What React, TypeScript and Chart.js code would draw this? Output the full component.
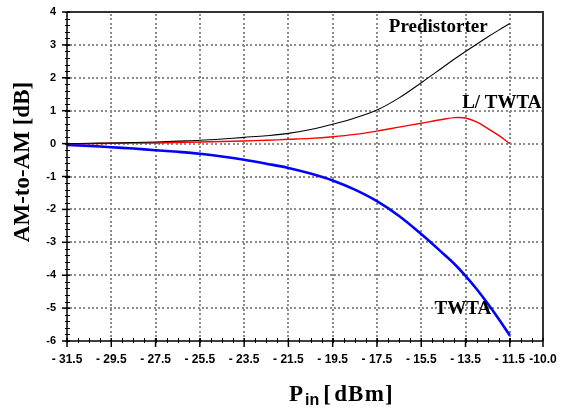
import React, { useEffect, useRef } from 'react';
import { Chart, registerables } from 'chart.js';

Chart.register(...registerables);

// Input power (dBm)
const pinValues = [
  -31.5, -30.5, -29.5, -28.5, -27.5, -26.5, -25.5, -24.5, -23.5, -22.5, -21.5,
  -20.5, -19.5, -18.5, -17.5, -16.5, -15.5, -14.5, -14, -13.5, -13, -12.5, -12, -11.5,
];
// AM-to-AM (dB)
const twtaValues = [
  -0.04, -0.07, -0.11, -0.15, -0.2, -0.25, -0.31, -0.39, -0.49, -0.61, -0.74,
  -0.91, -1.12, -1.4, -1.75, -2.2, -2.75, -3.35, -3.66, -4.02, -4.42, -4.86, -5.33, -5.83,
];
const predistorterValues = [
  0.0, 0.01, 0.02, 0.035, 0.05, 0.075, 0.1, 0.14, 0.19, 0.24, 0.31,
  0.43, 0.59, 0.78, 1.02, 1.39, 1.85, 2.33, 2.57, 2.8, 3.02, 3.24, 3.45, 3.65,
];
const linearizedValues = [
  0.0, 0.0, 0.01, 0.015, 0.02, 0.035, 0.05, 0.065, 0.08, 0.1, 0.13,
  0.16, 0.21, 0.28, 0.38, 0.5, 0.62, 0.74, 0.79, 0.78, 0.66, 0.46, 0.25, 0.0,
];

const xTickValues = [-31.5, -29.5, -27.5, -25.5, -23.5, -21.5, -19.5, -17.5, -15.5, -13.5, -11.5, -10.0];
const yTickValues = [-6, -5, -4, -3, -2, -1, 0, 1, 2, 3, 4];

const curveLabels = ['Predistorter', 'L/ TWTA', 'TWTA'];
const curveLabelX = [-14.73, -11.86, -13.62];
const curveLabelY = [3.53, 1.23, -5.02];

const SERIF = "'Liberation Serif', 'Times New Roman', serif";
const SANS = "'Liberation Sans', Arial, sans-serif";

const fmtX = (v: number) => {
  if (v === -10) return '-10.0';
  return '- ' + Math.abs(v).toFixed(1);
};

const drawGrid = (chart: any) => {
  const { ctx, chartArea } = chart;
  if (!chartArea) return;
  const { left, right, top, bottom } = chartArea;
  const xs = chart.scales.x;
  const ys = chart.scales.y;
  ctx.save();
  ctx.fillStyle = '#8c8c8c';
  const step = 4.4;
  xTickValues.forEach((v) => {
    const px = xs.getPixelForValue(v);
    if (px <= left + 1 || px >= right - 1) return;
    for (let y = top + 2; y < bottom - 1; y += step) {
      ctx.fillRect(Math.round(px) - 1, Math.round(y), 2, 2);
    }
  });
  yTickValues.forEach((v) => {
    const py = ys.getPixelForValue(v);
    if (py <= top + 1 || py >= bottom - 1) return;
    for (let x = left + 3; x < right - 1; x += step) {
      ctx.fillRect(Math.round(x), Math.round(py) - 1, 2, 2);
    }
  });
  ctx.restore();
};

const decorPlugin = {
  id: 'decor',
  beforeDraw(chart: any) {
    drawGrid(chart);
  },
  afterDatasetsDraw(chart: any) {
    const { ctx, chartArea } = chart;
    const { left, right, top, bottom } = chartArea;
    const xs = chart.scales.x;
    const ys = chart.scales.y;
    ctx.save();
    ctx.setLineDash([]);
    // top & right frame
    ctx.strokeStyle = '#333333';
    ctx.lineWidth = 2;
    ctx.beginPath();
    ctx.moveTo(left, top);
    ctx.lineTo(right, top);
    ctx.lineTo(right, bottom);
    ctx.stroke();
    // axes
    ctx.strokeStyle = '#000000';
    ctx.lineWidth = 1.5;
    ctx.beginPath();
    ctx.moveTo(left, top);
    ctx.lineTo(left, bottom);
    ctx.lineTo(right, bottom);
    ctx.stroke();
    // minor ticks
    ctx.lineWidth = 1;
    for (let v = -31.5; v <= -10.0001; v += 0.5) {
      const px = Math.round(xs.getPixelForValue(v)) + 0.5;
      ctx.beginPath();
      ctx.moveTo(px, bottom - 3);
      ctx.lineTo(px, bottom + 2);
      ctx.stroke();
    }
    for (let i = 0; i <= 50; i++) {
      const v = -6 + i * 0.2;
      const py = Math.round(ys.getPixelForValue(v)) + 0.5;
      ctx.beginPath();
      ctx.moveTo(left - 2, py);
      ctx.lineTo(left + 3, py);
      ctx.stroke();
    }
    // major ticks
    ctx.lineWidth = 1.5;
    xTickValues.forEach((v) => {
      const px = xs.getPixelForValue(v);
      ctx.beginPath();
      ctx.moveTo(px, bottom - 3);
      ctx.lineTo(px, bottom + 6);
      ctx.stroke();
    });
    yTickValues.forEach((v) => {
      const py = ys.getPixelForValue(v);
      ctx.beginPath();
      ctx.moveTo(left - 5, py);
      ctx.lineTo(left + 3, py);
      ctx.stroke();
    });
    // curve labels
    ctx.fillStyle = '#000';
    ctx.font = `bold 19px ${SERIF}`;
    ctx.textAlign = 'center';
    ctx.textBaseline = 'middle';
    curveLabels.forEach((t, i) => {
      ctx.fillText(t, xs.getPixelForValue(curveLabelX[i]), ys.getPixelForValue(curveLabelY[i]));
    });
    // y title
    ctx.save();
    ctx.translate(left - 44, top + 150);
    ctx.rotate(-Math.PI / 2);
    ctx.font = `bold 23px ${SERIF}`;
    ctx.textAlign = 'center';
    ctx.textBaseline = 'middle';
    ctx.fillText('AM-to-AM [dB]', 0, 0);
    ctx.restore();
    // x title: P_in [dBm]
    ctx.textAlign = 'left';
    ctx.textBaseline = 'alphabetic';
    try { (ctx as any).letterSpacing = '2px'; } catch (e) {}
    let x0 = left + 222;
    const base = bottom + 60;
    ctx.font = `bold 23px ${SERIF}`;
    ctx.fillText('P', x0, base);
    x0 += ctx.measureText('P').width;
    ctx.font = `bold 16px ${SANS}`;
    try { (ctx as any).letterSpacing = '0px'; } catch (e) {}
    ctx.fillText('in', x0, base + 4);
    x0 += ctx.measureText('in').width + 4;
    ctx.font = `bold 23px ${SERIF}`;
    try { (ctx as any).letterSpacing = '1.2px'; } catch (e) {}
    ctx.fillText('[', x0, base);
    x0 += ctx.measureText('[').width + 2;
    ctx.fillText('dBm]', x0, base);
    try { (ctx as any).letterSpacing = '0px'; } catch (e) {}
    ctx.restore();
  },
};

export default function App() {
  const ref = useRef<HTMLCanvasElement | null>(null);
  useEffect(() => {
    if (!ref.current) return;
    const chart = new Chart(ref.current, {
      type: 'line',
      data: {
        datasets: [
          {
            label: 'Predistorter',
            data: pinValues.map((x, i) => ({ x, y: predistorterValues[i] })),
            borderColor: '#000000',
            borderWidth: 1.1,
            pointRadius: 0,
            tension: 0.35,
          },
          {
            label: 'L/ TWTA',
            data: pinValues.map((x, i) => ({ x, y: linearizedValues[i] })),
            borderColor: '#ff0000',
            borderWidth: 1.4,
            pointRadius: 0,
            tension: 0.35,
          },
          {
            label: 'TWTA',
            data: pinValues.map((x, i) => ({ x, y: twtaValues[i] })),
            borderColor: '#0000ff',
            borderWidth: 2.6,
            pointRadius: 0,
            tension: 0.35,
          },
        ],
      },
      options: {
        responsive: false,
        animation: false,
        layout: { padding: { left: 0, top: 12, right: 19, bottom: 0 } },
        plugins: { legend: { display: false }, tooltip: { enabled: false } },
        scales: {
          x: {
            type: 'linear',
            min: -31.5,
            max: -10,
            grid: { display: false },
            border: { display: false },
            afterBuildTicks: (scale: any) => {
              scale.ticks = xTickValues.map((v) => ({ value: v }));
            },
            afterFit: (scale: any) => {
              scale.height = 69;
            },
            ticks: {
              autoSkip: false,
              maxRotation: 0,
              padding: 3,
              color: '#000',
              font: { family: SANS, size: 12, weight: 'bold' },
              callback: (v: any) => fmtX(Number(v)),
            },
          },
          y: {
            type: 'linear',
            min: -6,
            max: 4,
            grid: { display: false },
            border: { display: false },
            afterBuildTicks: (scale: any) => {
              scale.ticks = yTickValues.map((v) => ({ value: v }));
            },
            afterFit: (scale: any) => {
              scale.width = 67;
            },
            ticks: {
              padding: 3,
              color: '#000',
              font: { family: SANS, size: 11, weight: 'bold' },
              callback: (v: any) => String(v),
            },
          },
        },
      },
      plugins: [decorPlugin],
    } as any);
    return () => chart.destroy();
  }, []);
  return (
    <div style={{ position: 'absolute', left: 0, top: 0, width: 562, height: 410, background: '#fff' }}>
      <canvas ref={ref} width={562} height={410} />
    </div>
  );
}
